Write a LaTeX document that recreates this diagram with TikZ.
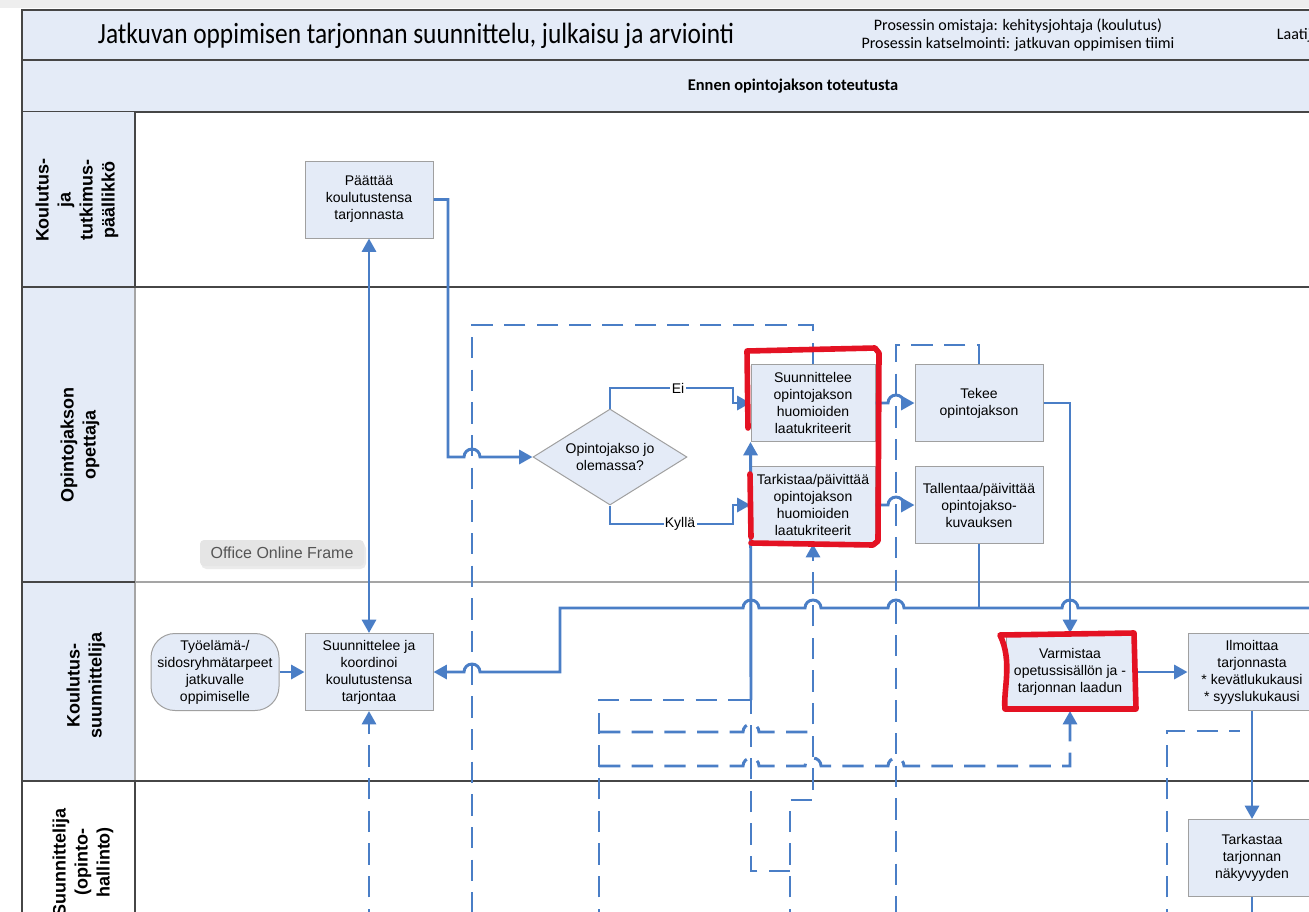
\documentclass[tikz,border=0pt]{standalone}
\usepackage{fontspec}
\setmainfont{Liberation Sans}
\newfontfamily\otsikkofont{Carlito}
\usepackage{graphicx}
\usetikzlibrary{arrows.meta,shapes.geometric}

\definecolor{visioblue}{RGB}{74,126,198}
\definecolor{boxfill}{RGB}{228,235,247}
\definecolor{boxline}{RGB}{160,160,160}
\definecolor{tumma}{RGB}{70,70,70}
\definecolor{vaalea}{RGB}{165,165,165}
\definecolor{markred}{RGB}{228,18,35}
\definecolor{selain}{RGB}{238,238,238}
\definecolor{kehysharmaa}{RGB}{229,229,229}
\definecolor{kehysteksti}{RGB}{85,85,85}

\tikzset{every picture/.style={line width=0.75pt}}
\tikzset{
  tehtava/.style={draw=boxline, fill=boxfill, minimum width=96pt, minimum height=57.75pt, inner sep=1pt, align=center, font=\fontsize{10.5}{12.75}\selectfont},
  paatos/.style={diamond, draw=boxline, fill=boxfill, aspect=1.6, minimum width=115.5pt, minimum height=72pt, inner sep=0pt, align=center, font=\fontsize{10.5}{12.75}\selectfont},
  tarve/.style={tehtava, rounded corners=18pt},
  kaista/.style={rotate=90, align=center, font=\bfseries\fontsize{13.5}{16.5}\selectfont},
  etiketti/.style={fill=white, inner sep=1pt, font=\fontsize{10.5}{12}\selectfont},
  kehys/.style={fill=kehysharmaa, rounded corners=3pt, minimum width=123pt, minimum height=19.5pt, text=kehysteksti, font=\fontsize{12}{14}\selectfont},
  varjo/.style={fill=black!8, rounded corners=4pt},
  virta/.style={draw=visioblue, line width=2.2pt},
  katko/.style={virta, dash pattern={on 16pt off 8.5pt}},
  nuoli/.style={-{Triangle[length=10pt,width=10.5pt]}},
  kaksinuoli/.style={{Triangle[length=10pt,width=10.5pt]}-{Triangle[length=10pt,width=10.5pt]}},
  kehysviiva/.style={draw=tumma, line width=1.4pt},
  kaistaviiva/.style={draw=vaalea, line width=1pt},
  korostus/.style={draw=markred, line width=4.2pt, line join=round, line cap=round}
}

\begin{document}
\begin{tikzpicture}[x=0.75pt,y=0.75pt,yscale=-1,xscale=1]
	\useasboundingbox (0,0) rectangle (1309,911);
	
	%Shape: Rectangle (browser strip)
	\fill[selain] (0,0) rectangle (1309,8);
	%Shape: Rectangle (header rows)
	\draw[kehysviiva, fill=boxfill] (22,10) rectangle (1330,60);
	\draw[kehysviiva, fill=boxfill] (22,60) rectangle (1330,112);
	%Shape: Rectangle (lane label column)
	\fill[boxfill] (22,112) rectangle (135,781);
	%Straight Lines (lane borders)
	\draw[kaistaviiva] (135,582) -- (1330,582);
	\draw[kaistaviiva] (135,287) -- (135,781);
	\draw[kehysviiva] (22,112) -- (22,930);
	\draw[kehysviiva] (135,112) -- (135,287);
	\draw[kehysviiva] (135,781) -- (135,930);
	\draw[kehysviiva] (22,287) -- (1330,287);
	\draw[kehysviiva] (22,582) -- (135,582);
	\draw[kehysviiva] (22,781) -- (1330,781);
	
	% Text Node
	\node[anchor=west, font=\otsikkofont\fontsize{22}{24}\selectfont] (otsikko) at (93,36) {\scalebox{0.865}[1]{Jatkuvan oppimisen tarjonnan suunnittelu, julkaisu ja arviointi}};
	% Text Node
	\node[align=center, font=\otsikkofont\fontsize{12}{13.5}\selectfont] (omistaja) at (1018,35) {Prosessin omistaja: kehitysjohtaja (koulutus)\\Prosessin katselmointi: jatkuvan oppimisen tiimi};
	% Text Node
	\node[anchor=west, font=\otsikkofont\fontsize{12}{13.5}\selectfont] (laatija) at (1272,35) {Laatija};
	% Text Node
	\node[font=\otsikkofont\bfseries\fontsize{12.3}{14}\selectfont] (vaihe) at (793,86) {Ennen opintojakson toteutusta};
	
	% Text Node (lanes)
	\node[kaista] (kaista1) at (77,200) {Koulutus-\\ja\\tutkimus-\\päällikkö};
	\node[kaista] (kaista2) at (80,445) {Opintojakson\\opettaja};
	\node[kaista] (kaista3) at (86,685) {Koulutus-\\suunnittelija};
	\node[kaista] (kaista4) at (83,862) {Suunnittelija\\(opinto-\\hallinto)};
	
	%Shape: Rectangle
	\node[tehtava] (paattaa) at (369,199.5) {Päättää\\koulutustensa\\tarjonnasta};
	%Shape: Diamond
	\node[paatos] (paatos) at (610,457) {Opintojakso jo\\olemassa?};
	%Shape: Rectangle
	\node[tehtava, minimum width=93pt] (suunnittelee) at (813,403) {Suunnittelee\\opintojakson\\huomioiden\\laatukriteerit};
	%Shape: Rectangle
	\node[tehtava, minimum width=93pt] (tarkistaa) at (813,505) {Tarkistaa/päivittää\\opintojakson\\huomioiden\\laatukriteerit};
	%Shape: Rectangle
	\node[tehtava] (tekee) at (979,403) {Tekee\\opintojakson};
	%Shape: Rectangle
	\node[tehtava] (tallentaa) at (979,505) {Tallentaa/päivittää\\opintojakso-\\kuvauksen};
	%Shape: Rounded Rectangle
	\node[tarve] (tarve) at (215,672) {Työelämä-/\\sidosryhmätarpeet\\jatkuvalle\\oppimiselle};
	%Shape: Rectangle
	\node[tehtava] (koordinoi) at (369,672) {Suunnittelee ja\\koordinoi\\koulutustensa\\tarjontaa};
	%Shape: Rectangle
	\node[tehtava] (varmistaa) at (1070,672) {Varmistaa\\opetussisällön ja -\\tarjonnan laadun};
	%Shape: Rectangle
	\node[tehtava] (ilmoittaa) at (1252,672) {Ilmoittaa\\tarjonnasta\\* kevätlukukausi\\* syyslukukausi};
	%Shape: Rectangle
	\node[tehtava] (tarkastaa) at (1252,858) {Tarkastaa\\tarjonnan\\näkyvyyden};
	%Shape: Rounded Rectangle (tooltip)
	\fill[varjo] (201,543) rectangle (366,569);
	\node[kehys] (officekehys) at (282,553) {Office Online Frame};
	
	% free ends
	\coordinate (oikea) at (1330,608);
	\coordinate (ala472) at (472,930);
	\coordinate (ala896) at (896,930);
	\coordinate (ala790) at (790,930);
	\coordinate (ala599) at (599,930);
	\coordinate (ala369) at (369,930);
	\coordinate (ala1167) at (1167,930);
	\coordinate (ala1252) at (1252,930);
	\coordinate (liitos751) at (751,700);
	\coordinate (liitos790) at (790,871);
	\coordinate (liitos599a) at (599,732);
	\coordinate (liitos599b) at (599,766);
	\coordinate (liitos979) at (979,608);
	\coordinate (paa1240) at (1240,731);
	
	%Dashed Lines
	\draw[katko] (suunnittelee.north) |- (472,325) -- (ala472);
	\draw[katko] (tekee.north) |- (896,345) -- (ala896);
	\draw[katko,nuoli] (ala790) |- (813,800) -- (tarkistaa.south);
	\draw[katko] (liitos790) -| (liitos751);
	\draw[katko] (ala599) |- (liitos751);
	\draw[katko] (liitos599a) -- (743,732) arc[start angle=180,end angle=360,radius=8] -- (813,732);
	\draw[katko,nuoli] (liitos599b) -- (743,766) arc[start angle=180,end angle=360,radius=8] -- (805,766) arc[start angle=180,end angle=360,radius=8] -- (888,766) arc[start angle=180,end angle=360,radius=8] -| (varmistaa.south);
	\draw[katko,nuoli] (ala369) -- (koordinoi.south);
	\draw[katko] (ala1167) |- (paa1240);
	
	%Straight Lines
	\draw[virta,nuoli] (paattaa.east) -| (448,457) -- (464,457) arc[start angle=180,end angle=360,radius=8] -- (paatos.west);
	\draw[virta,nuoli] (paatos.north) |- (733,388) |- (suunnittelee.west);
	\draw[virta,nuoli] (paatos.south) |- (733,524) |- (tarkistaa.west);
	\draw[virta,nuoli] (suunnittelee.east) -- (888,403) arc[start angle=180,end angle=360,radius=8] -- (tekee.west);
	\draw[virta,nuoli] (tarkistaa.east) -- (888,505) arc[start angle=180,end angle=360,radius=8] -- (tallentaa.west);
	\draw[virta,nuoli] (tekee.east) -| (varmistaa.north);
	\draw[virta] (tallentaa.south) -- (liitos979);
	\draw[virta,nuoli] (oikea) -- (1078,608) arc[start angle=0,end angle=-180,radius=8] -- (904,608) arc[start angle=0,end angle=-180,radius=8] -- (821,608) arc[start angle=0,end angle=-180,radius=8] -- (759,608) arc[start angle=0,end angle=-180,radius=8] -- (560,608) -- (560,672) -- (480,672) arc[start angle=0,end angle=-180,radius=8] -- (koordinoi.east);
	\draw[virta,kaksinuoli] (paattaa.south) -- (koordinoi.north);
	\draw[virta,nuoli] (tarve.east) -- (koordinoi.west);
	\draw[virta,nuoli] (liitos751) -- (suunnittelee.south west);
	\draw[virta,nuoli] (varmistaa.east) -- (ilmoittaa.west);
	\draw[virta,nuoli] (ilmoittaa.south) -- (tarkastaa.north);
	\draw[virta] (tarkastaa.south) -- (ala1252);
	
	% Text Node
	\node[etiketti] (ei) at (678,388) {Ei};
	% Text Node
	\node[etiketti] (kylla) at (680,524) {Kyllä};
	
	%Curve Lines (red marks)
	\draw[korostus] (748,428) -- (747,351) -- (875,348) -- (879,353) -- (878,541) -- (873,545) -- (751,543);
	\draw[korostus] (750,474) -- (751,537);
	\draw[korostus] (1005,709) .. controls (1003,690) and (1013,662) .. (1000,635) -- (1134,633) -- (1136,709) -- cycle;
	
\end{tikzpicture}
\end{document}
